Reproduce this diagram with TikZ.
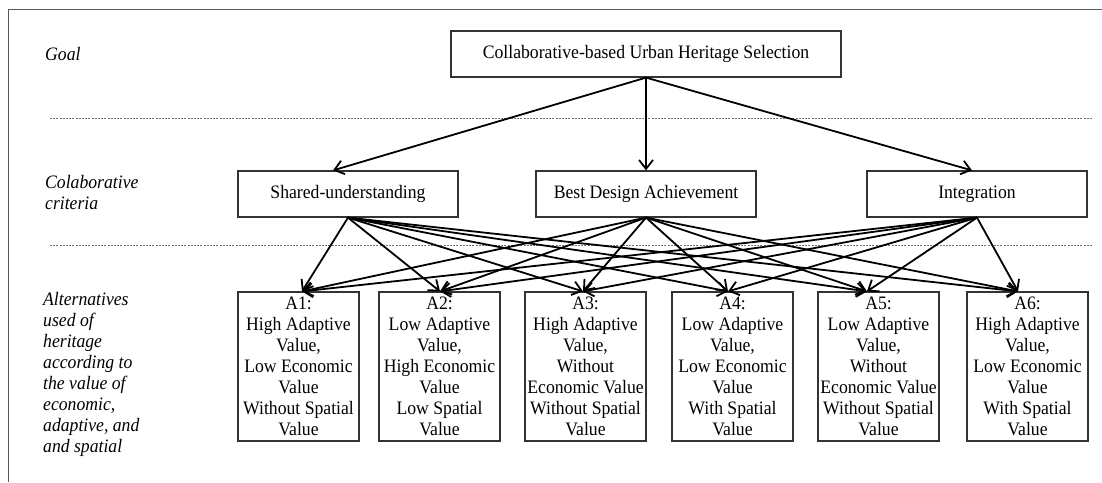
\documentclass[tikz,border=0pt]{standalone}
\usepackage{fontspec}
\setmainfont{Liberation Serif}[FakeStretch=0.93]
\usetikzlibrary{arrows.meta}
\begin{document}
\begin{tikzpicture}[x=1pt,y=-1pt,
  every node/.style={font=\fontsize{19}{21}\selectfont},
  box/.style={draw=black!80, line width=1.2pt, fill=white, inner sep=0pt},
  crit/.style={box, minimum width=220pt, minimum height=46pt},
  alt/.style={box, minimum width=121pt, minimum height=149pt, align=center},
  level/.style={anchor=base west, align=left, inner sep=0pt,
                font=\fontsize{19}{21}\selectfont\itshape},
  sep/.style={draw=black!55, line width=0.9pt, dash pattern=on 2pt off 1.2pt},
  link/.style={draw=black, line width=1.8pt,
               -{Straight Barb[length=9pt,width=14pt,line width=1.8pt]}},
  frame/.style={draw=black!65, line width=1pt}]
  \useasboundingbox (0,0) rectangle (1102,482);

  % outer frame (top and left edges only)
  \coordinate (fTR) at (1102,9);
  \coordinate (fTL) at (8,9);
  \coordinate (fBL) at (8,482);
  \draw[frame] (fTR) -- (fTL) -- (fBL);

  % level separators
  \coordinate (s1a) at (50,118);  \coordinate (s1b) at (1093,118);
  \coordinate (s2a) at (50,245);  \coordinate (s2b) at (1093,245);
  \draw[sep] (s1a) -- (s1b);
  \draw[sep] (s2a) -- (s2b);

  % level labels (base anchor sits on the last line)
  \node[level] (lgoal) at (45,60) {Goal};
  \node[level] (lcrit) at (45,209) {Colaborative\\criteria};
  \node[level] (lalt)  at (43,452) {Alternatives\\used of\\heritage\\according to\\the value of\\economic,\\adaptive, and\\and spatial};

  % goal
  \node[box, minimum width=390pt, minimum height=46pt] (goal) at (646,54)
    {Collaborative-based Urban Heritage Selection};

  % criteria
  \node[crit] (shared) at (348,194) {Shared-understanding};
  \node[crit] (best)   at (646,194) {Best Design Achievement};
  \node[crit] (integ)  at (977,194) {Integration};

  % alternatives
  \node[alt] (A1) at (298.5,366.5) {A1:\\High Adaptive\\Value,\\Low Economic\\Value\\Without Spatial\\Value};
  \node[alt] (A2) at (439.5,366.5) {A2:\\Low Adaptive\\Value,\\High Economic\\Value\\Low Spatial\\Value};
  \node[alt] (A3) at (585.5,366.5) {A3:\\High Adaptive\\Value,\\Without\\Economic Value\\Without Spatial\\Value};
  \node[alt] (A4) at (732.5,366.5) {A4:\\Low Adaptive\\Value,\\Low Economic\\Value\\With Spatial\\Value};
  \node[alt] (A5) at (878.5,366.5) {A5:\\Low Adaptive\\Value,\\Without\\Economic Value\\Without Spatial\\Value};
  \node[alt] (A6) at (1027.5,366.5) {A6:\\High Adaptive\\Value,\\Low Economic\\Value\\With Spatial\\Value};

  % arrow targets on the box tops
  \coordinate (cS) at ([xshift=-15pt]shared.north);
  \coordinate (cB) at (best.north);
  \coordinate (cI) at ([xshift=-5pt]integ.north);
  \coordinate (t1) at ([xshift=3.5pt]A1.north);
  \coordinate (t2) at ([xshift=0.5pt]A2.north);
  \coordinate (t3) at ([xshift=-2.5pt]A3.north);
  \coordinate (t4) at ([xshift=-4.5pt]A4.north);
  \coordinate (t5) at ([xshift=-11.5pt]A5.north);
  \coordinate (t6) at ([xshift=-9.5pt]A6.north);

  % goal -> criteria
  \draw[link] (goal.south) -- (cS);
  \draw[link] (goal.south) -- (cB);
  \draw[link] (goal.south) -- (cI);

  % criteria -> alternatives
  \foreach \c in {shared,best,integ}
    \foreach \t in {t1,t2,t3,t4,t5,t6}
      \draw[link] (\c.south) -- (\t);
\end{tikzpicture}
\end{document}
